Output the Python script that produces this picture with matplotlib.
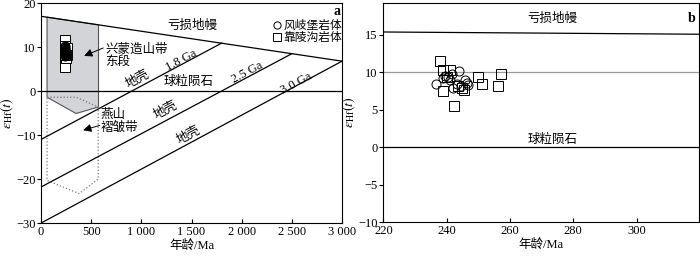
import numpy as np
import matplotlib
matplotlib.use('Agg')
import matplotlib.pyplot as plt
from matplotlib.patches import Polygon

plt.rcParams['font.family'] = ['Liberation Serif', 'Noto Sans CJK SC']
plt.rcParams['mathtext.fontset'] = 'stix'
plt.rcParams['font.size'] = 9

# zircon Hf data (age / Ma, eHf(t))
fqb_age = [236.7, 238.9, 239.5, 240.3, 241.0, 241.6, 243.8, 242.1, 243.3, 245.8, 246.4, 246.9, 244.5]
fqb_eps = [8.45, 9.2, 9.5, 9.4, 9.0, 9.8, 10.2, 7.9, 8.4, 8.9, 8.5, 8.3, 8.1]
klg_age = [237.9, 238.9, 241.0, 240.0, 249.8, 251.1, 257.2, 256.1, 238.9, 242.2, 244.8, 245.4, 243.7]
klg_eps = [11.5, 10.3, 10.3, 9.3, 9.35, 8.45, 9.8, 8.15, 7.45, 5.45, 7.95, 7.6, 8.2]

# evolution lines
dm_age = [0, 3000]
dm_eps = [17.0, 6.8]
crust_names = ['1.8 Ga', '2.5 Ga', '3.0 Ga']
crust_tdm = [1800, 2500, 3000]
crust_eps_tdm = [10.9, 8.5, 6.8]
crust_eps_0 = [-11.0, -21.8, -30.0]

# fields
xm_age = [60, 573, 573, 350, 60]
xm_eps = [16.8, 15.05, -3.6, -5.1, -1.4]
ys_age = [60, 350, 570, 570, 380, 60, 60]
ys_eps = [-1.4, -1.4, -3.6, -20.0, -23.3, -20.3, -1.4]

# panel b reference lines
dm_b_age = [220, 320]
dm_b_eps = [15.35, 15.05]

fig = plt.figure(figsize=(7, 2.57), dpi=100)
ax1 = fig.add_axes([0.0586, 0.132, 0.430, 0.856])
ax2 = fig.add_axes([0.5476, 0.135, 0.451, 0.853])

# ---------- panel a ----------
ax1.add_patch(Polygon(np.column_stack([xm_age, xm_eps]), closed=True,
                      facecolor='#d3d4d8', edgecolor='#555555', lw=0.8, zorder=1))
ax1.plot(ys_age, ys_eps, ls=':', color='#777777', lw=0.9, zorder=1)

ax1.plot(dm_age, dm_eps, color='k', lw=0.9, zorder=3)
ax1.axhline(0, color='k', lw=0.9, zorder=3)
for t, e1, e0 in zip(crust_tdm, crust_eps_tdm, crust_eps_0):
    ax1.plot([0, t], [e0, e1], color='k', lw=0.9, zorder=3)

ax1.plot(klg_age, klg_eps, 's', ms=7, mfc='white', mec='k', mew=0.7, zorder=4)
ax1.plot(fqb_age, fqb_eps, 'o', ms=6.5, mfc='k', mec='k', mew=0.7, zorder=5)

rot = 28
ax1.text(1507, 14.9, '亏损地幔', ha='center', va='center', fontsize=9)
ax1.text(1400, 7.0, '1.8 Ga', ha='center', va='center', rotation=rot, fontsize=9)
ax1.text(2057, 4.3, '2.5 Ga', ha='center', va='center', rotation=rot, fontsize=9)
ax1.text(2540, 1.7, '3.0 Ga', ha='center', va='center', rotation=rot, fontsize=9)
ax1.text(960, 2.6, '地壳', ha='center', va='center', rotation=rot, fontsize=9)
ax1.text(1240, -4.4, '地壳', ha='center', va='center', rotation=rot, fontsize=9)
ax1.text(1470, -10.0, '地壳', ha='center', va='center', rotation=rot, fontsize=9)
ax1.text(1470, 2.2, '球粒陨石', ha='center', va='center', fontsize=9)
ax1.text(640, 8.1, '兴蒙造山带\n东段', ha='left', va='center', fontsize=9,
         linespacing=1.05)
ax1.text(590, -6.9, '燕山\n褶皱带', ha='left', va='center', fontsize=9,
         linespacing=1.0)
ax1.annotate('', xy=(430, 8.0), xytext=(620, 9.8),
             arrowprops=dict(arrowstyle='-|>', color='k', lw=0.7,
                             mutation_scale=12, shrinkA=0, shrinkB=0))
ax1.annotate('', xy=(420, -8.9), xytext=(585, -7.8),
             arrowprops=dict(arrowstyle='-|>', color='k', lw=0.7,
                             mutation_scale=12, shrinkA=0, shrinkB=0))
ax1.text(0.995, 0.99, 'a', transform=ax1.transAxes, ha='right', va='top',
         fontsize=10, fontweight='bold')

ax1.set_xlim(0, 3000)
ax1.set_ylim(-30, 20)
ax1.set_xticks([0, 500, 1000, 1500, 2000, 2500, 3000])
ax1.set_xticklabels(['0', '500', '1 000', '1 500', '2 000', '2 500', '3 000'])
ax1.set_yticks([-30, -20, -10, 0, 10, 20])
ax1.set_xlabel('年龄/Ma', fontsize=9, labelpad=1)
ax1.set_ylabel(r'$\varepsilon_{\rm Hf}(t)$', fontsize=10, labelpad=0)

# ---------- panel b ----------
ax2.plot(dm_b_age, dm_b_eps, color='k', lw=0.9)
ax2.axhline(10, color='#999999', lw=0.9, zorder=1)
ax2.axhline(0, color='k', lw=0.9)
sq, = ax2.plot(klg_age, klg_eps, 's', ms=7, mfc='none', mec='k', mew=0.7)
ci, = ax2.plot(fqb_age, fqb_eps, 'o', ms=6.5, mfc='none', mec='k', mew=0.7)
ax2.text(273.5, 17.1, '亏损地幔', ha='center', va='center', fontsize=9)
ax2.text(273.5, 0.95, '球粒陨石', ha='center', va='center', fontsize=9)
ax2.text(0.99, 0.96, 'b', transform=ax2.transAxes, ha='right', va='top',
         fontsize=10, fontweight='bold')

ax1.legend([ci, sq], ['风岐堡岩体', '靠陵沟岩体'], loc='upper right',
           bbox_to_anchor=(1.005, 0.93), frameon=False, fontsize=8.5,
           handlelength=0.7, handletextpad=0.25, labelspacing=0.0,
           borderaxespad=0, borderpad=0.1, markerscale=0.8)

ax2.set_xlim(220, 319.7)
ax2.set_ylim(-10, 19.2)
ax2.set_xticks([220, 240, 260, 280, 300])
ax2.set_yticks([-10, -5, 0, 5, 10, 15])
ax2.set_xlabel('年龄/Ma', fontsize=9, labelpad=1)
ax2.set_ylabel(r'$\varepsilon_{\rm Hf}(t)$', fontsize=10, labelpad=0)

for ax in (ax1, ax2):
    for s in ax.spines.values():
        s.set_linewidth(0.8)
    ax.tick_params(axis='x', direction='in', length=3, width=0.8, labelsize=9, pad=2)
    ax.tick_params(axis='y', direction='out', length=3, width=0.8, labelsize=9, pad=1)

fig.savefig('out.png', dpi=100)
